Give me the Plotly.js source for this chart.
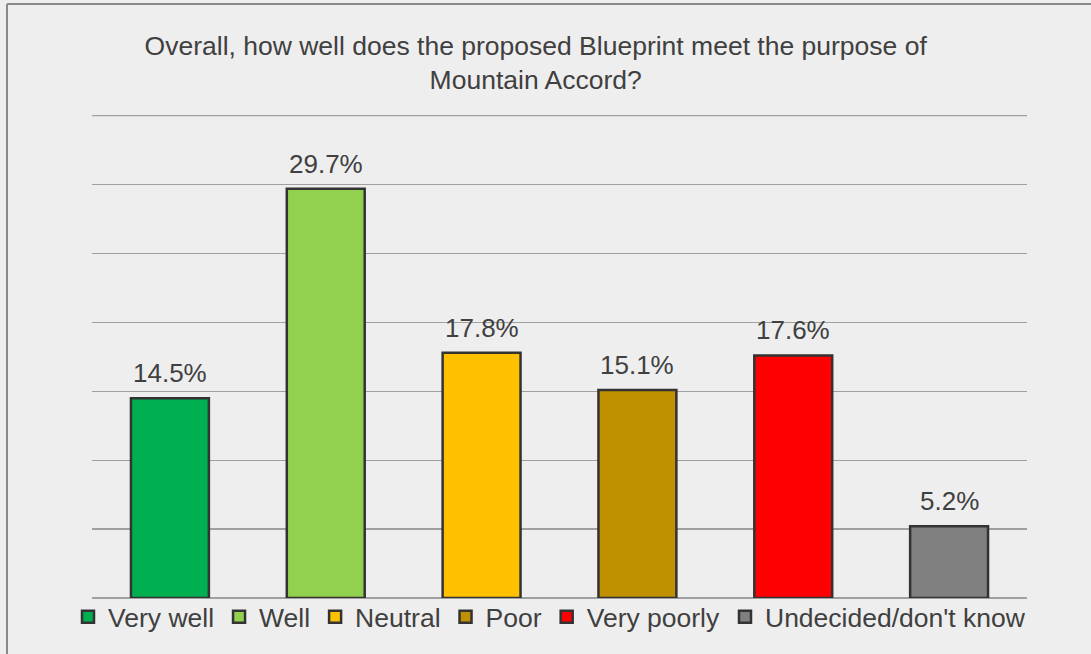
<!DOCTYPE html>
<html>
<head>
<meta charset="utf-8">
<script src="https://cdn.plot.ly/plotly-3.0.1.min.js"></script>
<style>
  html, body { margin: 0; padding: 0; background: #eeeeee; }
  #chart { width: 1091px; height: 654px; }
</style>
</head>
<body>
<div id="chart"></div>
<script>
// ---- data ----
const categories = ["Very well", "Well", "Neutral", "Poor", "Very poorly", "Undecided/don't know"];
const percentValues = [14.5, 29.7, 17.8, 15.1, 17.6, 5.2];
const yAxisMax = 35;
const chartTitle = "Overall, how well does the proposed Blueprint meet the purpose of<br>Mountain Accord?";

// ---- style ----
const barColors = ["#00b050", "#92d050", "#ffc000", "#bf9000", "#ff0000", "#808080"];
const FONT = "'Liberation Sans', Arial, sans-serif";
const TXT = "#404040";

const traces = categories.map((c, i) => ({
  type: "bar",
  name: c,
  x: [c],
  y: [percentValues[i]],
  width: 0.5,
  marker: { color: barColors[i], line: { color: "#333333", width: 2.5 } },
  hoverinfo: "skip"
}));

const labelAnnotations = categories.map((c, i) => ({
  x: c,
  y: percentValues[i],
  xref: "x",
  yref: "y",
  text: percentValues[i].toFixed(1) + "%",
  showarrow: false,
  xanchor: "center",
  yanchor: "bottom",
  yshift: 8,
  font: { family: FONT, size: 26, color: TXT }
}));

const L = 92, R = 1027, T = 115, B = 598;
const pw = R - L, ph = B - T;

const layout = {
  width: 1091,
  height: 654,
  paper_bgcolor: "#eeeeee",
  plot_bgcolor: "#eeeeee",
  margin: { l: L, r: 1091 - R, t: T, b: 654 - B, pad: 0, autoexpand: false },
  font: { family: FONT, color: TXT },
  title: {
    text: chartTitle,
    font: { family: FONT, size: 26.5, color: TXT },
    x: 0.491, xref: "container", xanchor: "center",
    y: 1 - 55 / 654, yref: "container", yanchor: "top"
  },
  barmode: "overlay",
  bargap: 0,
  showlegend: true,
  legend: {
    orientation: "h",
    x: (68 - L) / pw, xanchor: "left",
    y: -(617 - B) / ph, yanchor: "middle",
    font: { family: FONT, size: 26.5, color: TXT },
    bgcolor: "rgba(0,0,0,0)",
    traceorder: "normal"
  },
  annotations: labelAnnotations,
  xaxis: {
    type: "category",
    categoryorder: "array",
    categoryarray: categories,
    showticklabels: false,
    showgrid: false,
    zeroline: false,
    showline: false,
    ticks: ""
  },
  yaxis: {
    range: [0, yAxisMax + 0.05],
    dtick: 5,
    tick0: 0,
    showticklabels: false,
    showgrid: true,
    gridcolor: "#a0a0a0",
    gridwidth: 1.3,
    zeroline: true,
    zerolinecolor: "#a0a0a0",
    zerolinewidth: 1.3,
    showline: false,
    ticks: ""
  },
  shapes: [
    // top gridline (at axis max)
    { type: "line", xref: "paper", yref: "y",
      x0: 0, x1: 1, y0: yAxisMax, y1: yAxisMax, layer: "below",
      line: { color: "#a0a0a0", width: 1.3 } },
    // outer frame (top and left edges)
    { type: "line", xref: "paper", yref: "paper",
      x0: (7 - L) / pw, x1: (1091 - L) / pw, y0: (B - 4) / ph, y1: (B - 4) / ph,
      line: { color: "#8a8a8a", width: 2 } },
    { type: "line", xref: "paper", yref: "paper",
      x0: (7 - L) / pw, x1: (7 - L) / pw, y0: (B - 4) / ph, y1: -(654 - B) / ph,
      line: { color: "#8a8a8a", width: 2 } }
  ]
};

Plotly.newPlot("chart", traces, layout, { displayModeBar: false, staticPlot: true });
</script>
</body>
</html>
